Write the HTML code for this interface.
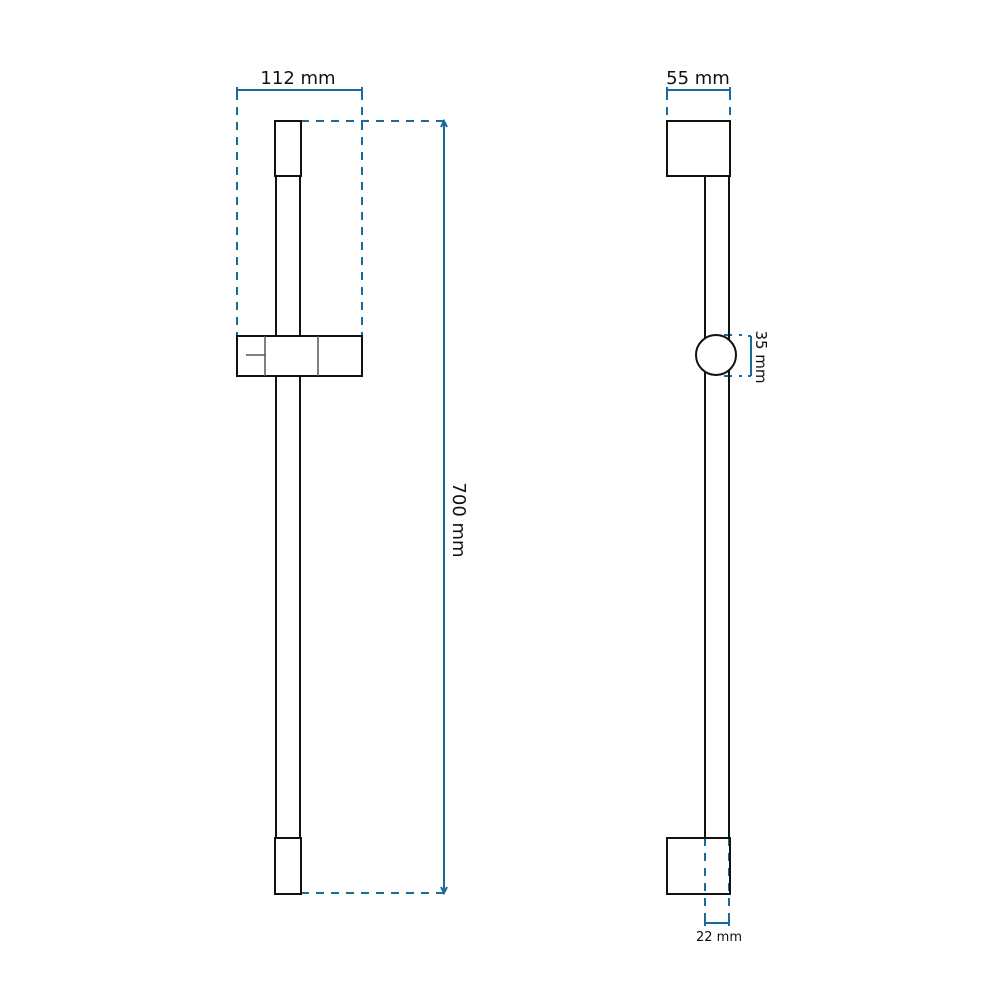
<!DOCTYPE html>
<html><head><style>body{margin:0;background:#fff}svg{display:block}</style></head><body>
<svg width="1000" height="1000" viewBox="0 0 1000 1000" xmlns="http://www.w3.org/2000/svg">
<g fill="none" stroke="#1a6a9a" stroke-width="2">
  <g stroke-dasharray="8,7">
    <line x1="237" y1="92" x2="237" y2="336"/>
    <line x1="362" y1="92" x2="362" y2="336"/>
    <line x1="301" y1="121" x2="444" y2="121"/>
    <line x1="301" y1="893" x2="444" y2="893"/>
    <line x1="667" y1="92" x2="667" y2="121"/>
    <line x1="730" y1="92" x2="730" y2="121"/>
    <line x1="724" y1="335" x2="742" y2="335"/>
    <line x1="724" y1="376" x2="742" y2="376"/>
    <line x1="705" y1="838" x2="705" y2="922"/>
    <line x1="729" y1="838" x2="729" y2="922"/>
  </g>
  <line x1="237" y1="90" x2="362" y2="90"/>
  <line x1="667" y1="90" x2="730" y2="90"/>
  <line x1="444" y1="122" x2="444" y2="892"/>
  <line x1="751" y1="336" x2="751" y2="376"/>
  <line x1="705" y1="923" x2="729" y2="923"/>
  <path d="M441 127 L444 121 L447 127 M441 887 L444 893 L447 887" />
  <path d="M237 87 V93 M362 87 V93 M667 87 V93 M730 87 V93 M748 336 H751 M748 376 H751 M705 920 V926 M729 920 V926"/>
</g>
<g fill="none" stroke="#111" stroke-width="2">
  <rect x="275" y="121" width="26" height="55"/>
  <line x1="276" y1="176" x2="276" y2="336"/>
  <line x1="300" y1="176" x2="300" y2="336"/>
  <rect x="237" y="336" width="125" height="40"/>
  <line x1="276" y1="376" x2="276" y2="838"/>
  <line x1="300" y1="376" x2="300" y2="838"/>
  <rect x="275" y="838" width="26" height="56"/>
  <rect x="667" y="121" width="63" height="55"/>
  <line x1="705" y1="176" x2="705" y2="838"/>
  <line x1="729" y1="176" x2="729" y2="838"/>
  <rect x="667" y="838" width="63" height="56"/>
  <circle cx="716" cy="355" r="20" fill="#fff"/>
</g>
<g stroke="#555" stroke-width="1.5">
  <line x1="265" y1="336" x2="265" y2="376"/>
  <line x1="318" y1="336" x2="318" y2="376"/>
  <line x1="246" y1="355" x2="265" y2="355"/>
</g>
<g font-family="'DejaVu Sans', 'Liberation Sans', sans-serif" fill="#111">
  <text x="298" y="84" font-size="18" text-anchor="middle">112 mm</text>
  <text x="698" y="84" font-size="18" text-anchor="middle">55 mm</text>
  <text x="719" y="941" font-size="13" text-anchor="middle">22 mm</text>
  <text transform="translate(453,520) rotate(90)" font-size="18" text-anchor="middle">700 mm</text>
  <text transform="translate(756,357) rotate(90)" font-size="15" text-anchor="middle">35 mm</text>
</g>
</svg>
</body></html>
